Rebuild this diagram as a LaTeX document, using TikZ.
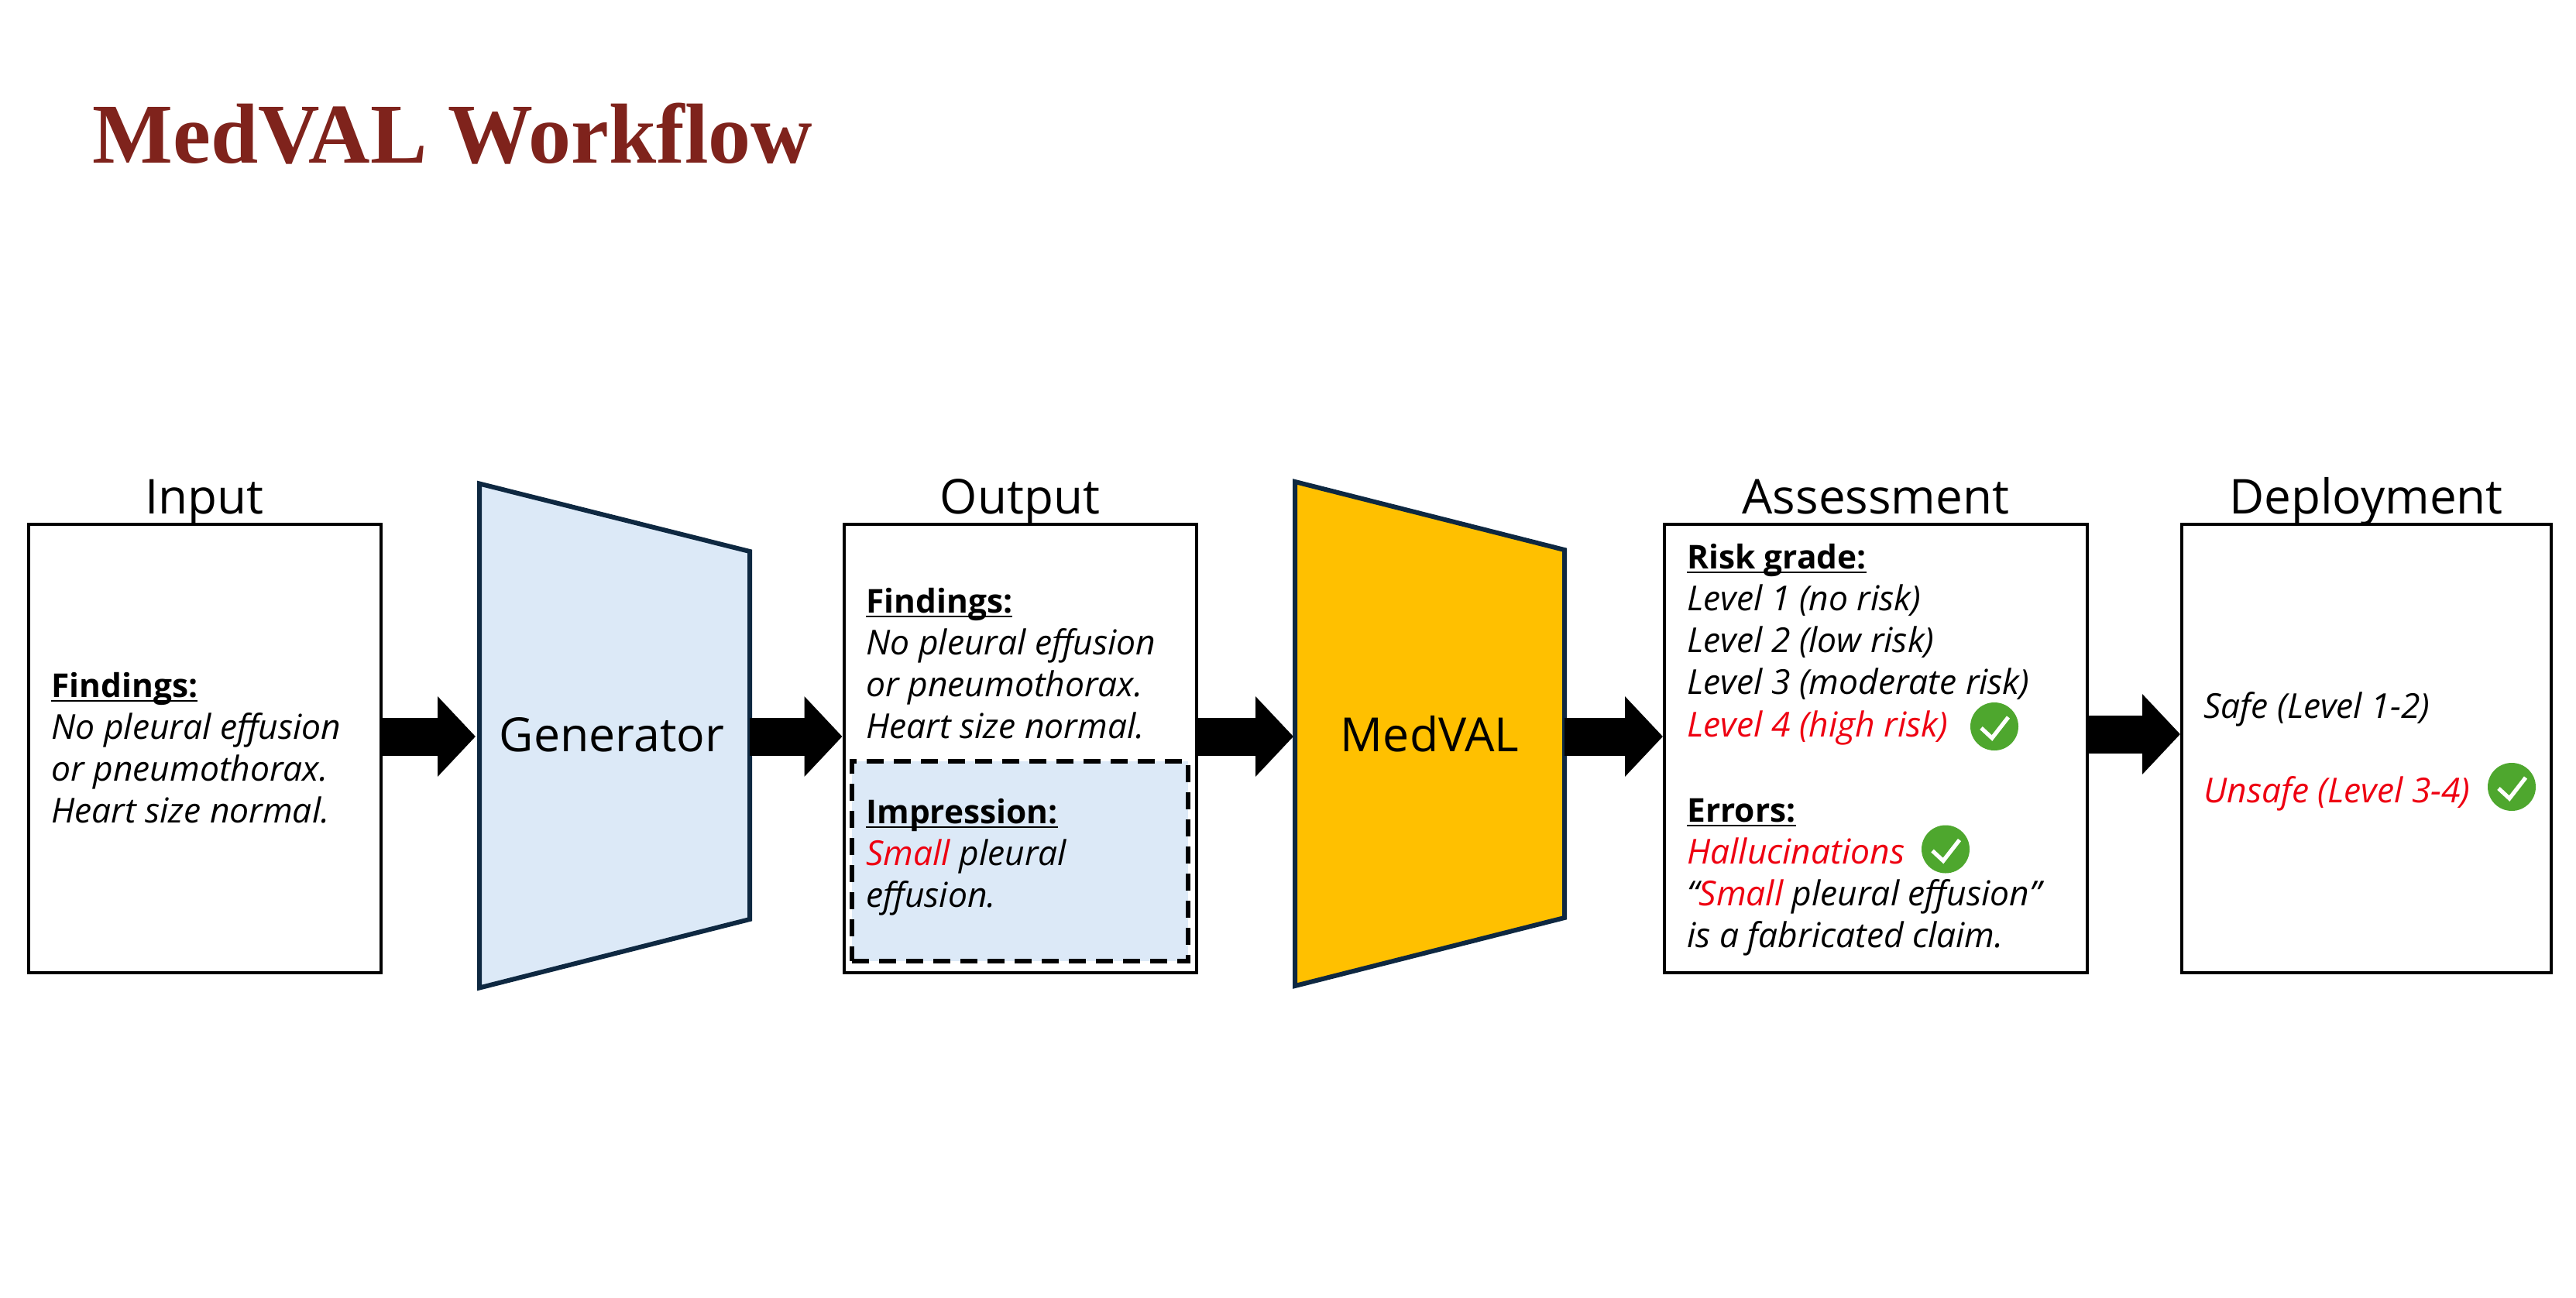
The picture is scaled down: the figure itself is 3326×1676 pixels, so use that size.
\documentclass[tikz,border=0pt]{standalone}
\usepackage{fontspec}
\usetikzlibrary{arrows.meta}
\setmainfont{Open Sans}
\newfontfamily\titlefont{Liberation Serif}
\definecolor{navy}{HTML}{0E2841}
\definecolor{paleblue}{HTML}{DCE9F7}
\definecolor{gold}{HTML}{FFC000}
\definecolor{okgreen}{HTML}{4EA72E}
\definecolor{wine}{HTML}{7F231C}
\definecolor{alert}{HTML}{EE0011}
\newcommand{\headtxt}[1]{\vtop{\setbox0=\hbox{\fontsize{21.2}{27.15}\selectfont\bfseries\upshape #1}\dp0=0pt \box0 \kern1.8pt\hrule height 1.2pt}}
\newcommand{\stack}[1]{\vtop{\halign{##\hfil\cr#1\crcr}}}
\tikzset{
  box/.style={draw=black,line width=2pt,fill=white,minimum width=#1,minimum height=289.5pt,inner sep=0pt},
  trap/.style={draw=navy,line width=3pt,line join=miter},
  heading/.style={anchor=base,inner sep=0pt,font=\fontsize{31}{36}\selectfont},
  inner heading/.style={anchor=base,inner sep=0pt,font=\fontsize{30.4}{36}\selectfont},
  body/.style={anchor=base west,inner sep=0pt,font=\fontsize{22.2}{27.15}\selectfont\itshape},
  bigarrow/.style={line width=24.5pt,-{Triangle[length=24.5pt,width=50.5pt]}},
  okdot/.style={circle,fill=okgreen,minimum size=31pt,inner sep=0pt},
  okmark/.style={draw=white,line width=2.6pt}
}
\newcommand{\tick}[1]{\draw[okmark] ([shift={(-17,2)}]#1.center) -- ([shift={(-3,15)}]#1.center) -- ([shift={(18,-12)}]#1.center);}
\begin{document}
\begin{tikzpicture}[x=.5pt,y=-.5pt]
\useasboundingbox (0,0) rectangle (3326,1676);
\node[anchor=base west,inner sep=0pt,text=wine,font=\titlefont\bfseries\fontsize{55}{60}\selectfont] (title) at (119,210) {MedVAL Workflow};

% boxes
\node[box=227.5pt] (input) at (264,966) {};
\node[box=227.5pt] (output) at (1317,966) {};
\node[box=273pt] (assess) at (2422,966) {};
\node[box=238.5pt] (deploy) at (3055.5,966) {};

% impression highlight
\node[draw=black,fill=paleblue,line width=3pt,dash pattern=on 11pt off 6.5pt,minimum width=217pt,minimum height=129pt,inner sep=0pt] (impr) at (1317,1112) {};

% trapezoids
\draw[trap,fill=paleblue] (619,624.5) coordinate (genNW) -- (968,712) coordinate (genNE) -- (968,1187) coordinate (genSE) -- (619,1275.5) coordinate (genSW) -- cycle;
\draw[trap,fill=gold] (1672,622) coordinate (medNW) -- (2020,710) coordinate (medNE) -- (2020,1185) coordinate (medSE) -- (1672,1273) coordinate (medSW) -- cycle;
\coordinate (genW) at (619,951);
\coordinate (genE) at (968,951);
\coordinate (medW) at (1672,951);
\coordinate (medE) at (2020,951);

% headings
\node[heading] (hinput) at (264,663) {Input};
\node[heading] (houtput) at (1317,663) {Output};
\node[heading] (hassess) at (2422,663) {Assessment};
\node[heading] (hdeploy) at (3055,663) {Deployment};
\node[inner heading] (gen) at (790,970) {Generator};
\node[inner heading] (med) at (1846,970) {MedVAL};

% connectors
\draw[bigarrow,shorten >=2.5pt] (input.east |- genW) -- (genW);
\draw[bigarrow] (genE) -- (output.west |- genE);
\draw[bigarrow,shorten >=1pt] (output.east |- medW) -- (medW);
\draw[bigarrow] (medE) -- (assess.west |- medE);
\coordinate (depW) at (deploy.west |- 0,948);
\draw[bigarrow] (assess.east |- depW) -- (depW);

% text
\node[body] (tinput) at (66,900) {\stack{\headtxt{Findings:}\cr No pleural effusion\cr or pneumothorax.\cr Heart size normal.}};
\node[body] (toutput) at (1118,791) {\stack{\headtxt{Findings:}\cr No pleural effusion\cr or pneumothorax.\cr Heart size normal.}};
\node[body] (timpr) at (1118,1063) {\stack{\headtxt{Impression:}\cr \textcolor{alert}{Small} pleural\cr effusion.}};
\node[body] (trisk) at (2178,734) {\stack{\headtxt{Risk grade:}\cr Level 1 (no risk)\cr Level 2 (low risk)\cr Level 3 (moderate risk)\cr \textcolor{alert}{Level 4 (high risk)}}};
\node[body] (terr) at (2178,1061) {\stack{\headtxt{Errors:}\cr \textcolor{alert}{Hallucinations}\cr “\textcolor{alert}{Small} pleural effusion”\cr is a fabricated claim.}};
\node[body] (tsafe) at (2845,927) {Safe (Level 1-2)};
\node[body,text=alert] (tunsafe) at (2845,1036) {Unsafe (Level 3-4)};

% ticks
\node[okdot] (ok1) at (2575,938) {}; \tick{ok1}
\node[okdot] (ok2) at (2512,1096.5) {}; \tick{ok2}
\node[okdot] (ok3) at (3243,1016) {}; \tick{ok3}
\end{tikzpicture}
\end{document}
